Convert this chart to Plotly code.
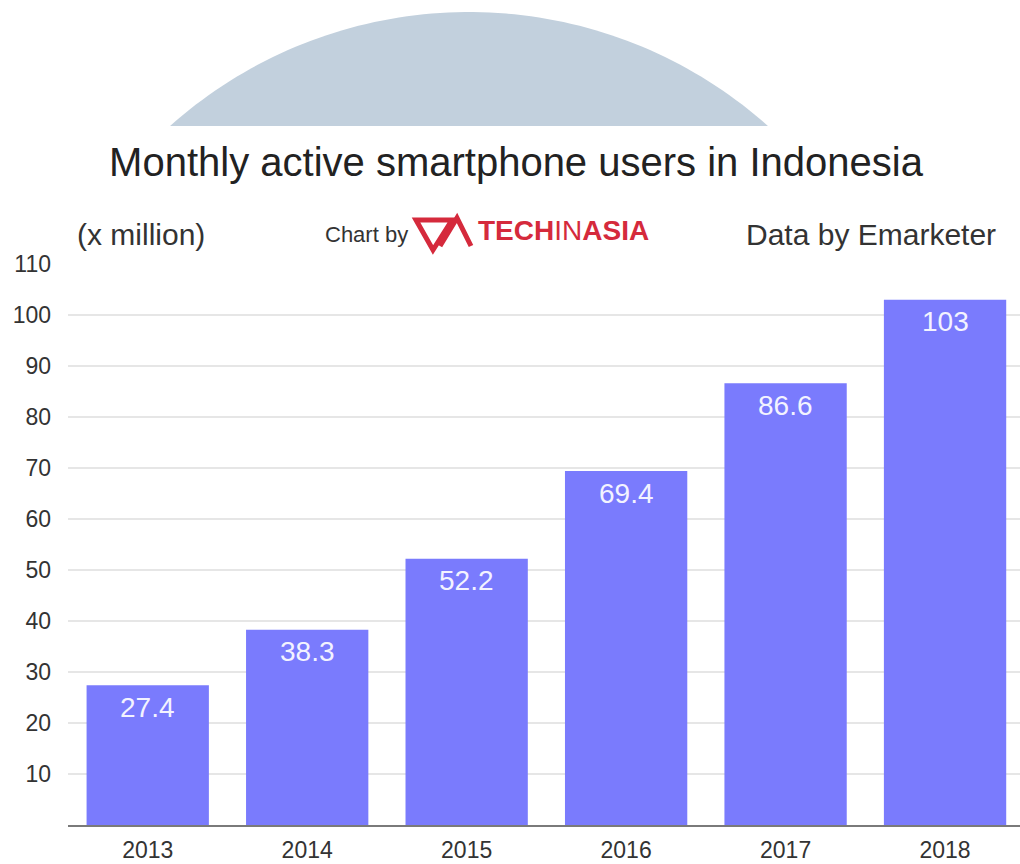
import numpy as np
import plotly.graph_objects as go

# ---- data ----
years = ["2013", "2014", "2015", "2016", "2017", "2018"]
users_million = [27.4, 38.3, 52.2, 69.4, 86.6, 103]
bar_labels = ["27.4", "38.3", "52.2", "69.4", "86.6", "103"]
y_tickvals = [10, 20, 30, 40, 50, 60, 70, 80, 90, 100, 110]
y_ticktext = ["10", "20", "30", "40", "50", "60", "70", "80", "90", "100", "110"]

title_text = "Monthly active smartphone users in Indonesia"
unit_text = "(x million)"
source_text = "Data by Emarketer"

# ---- layout geometry (pixels) ----
W, H = 1020, 864
ML, MR, MT, MB = 68, 0, 264, 39
PW = W - ML - MR
PH = H - MT - MB
PB = H - MB  # plot bottom in pixels


def px(x):
    return (x - ML) / PW


def py(y):
    return (PB - y) / PH


FONT = "Liberation Sans, Arial, Helvetica, sans-serif"
BAR_COLOR = "#7a7bfd"
RED = "#d52a3c"

fig = go.Figure()
fig.add_trace(go.Bar(
    x=years, y=users_million,
    marker=dict(color=BAR_COLOR, line=dict(width=0)),
    hoverinfo="x+y",
))

annotations = []
for i, (v, lab) in enumerate(zip(users_million, bar_labels)):
    annotations.append(dict(
        x=i, y=v, xref="x", yref="y", text=lab, showarrow=False,
        yanchor="middle", yshift=-22,
        font=dict(family=FONT, size=28, color="#f3f3ff"),
    ))

annotations += [
    dict(x=px(75), y=py(235), xref="paper", yref="paper", text=unit_text,
         showarrow=False, xanchor="left", yanchor="middle",
         font=dict(family=FONT, size=30, color="#333333")),
    dict(x=px(998), y=py(235), xref="paper", yref="paper", text=source_text,
         showarrow=False, xanchor="right", yanchor="middle",
         font=dict(family=FONT, size=30, color="#333333")),
    dict(x=px(410), y=py(234), xref="paper", yref="paper", text="Chart by",
         showarrow=False, xanchor="right", yanchor="middle",
         font=dict(family=FONT, size=22, color="#333333")),
    dict(x=px(476), y=py(230), xref="paper", yref="paper",
         text="<b>TECH</b>IN<b>ASIA</b>",
         showarrow=False, xanchor="left", yanchor="middle",
         font=dict(family=FONT, size=28, color=RED)),
]

# decorative arc at top
cx, cy, r, ycut = 469.0, 461.0, 449.0, 126.0
t0 = np.arcsin((cy - ycut) / r)
ts = np.linspace(t0, np.pi - t0, 80)
xs = cx + r * np.cos(ts)
ys = cy - r * np.sin(ts)
arc_path = "M " + " L ".join(f"{px(a):.5f},{py(b):.5f}" for a, b in zip(xs, ys)) + " Z"

shapes = [
    dict(type="path", xref="paper", yref="paper", path=arc_path,
         fillcolor="#c2d0dd", line=dict(width=0), layer="below"),
]

# logo mark: inverted triangle + A
tri = [(416, 220), (452, 220), (433, 250)]
tri_path = "M " + " L ".join(f"{px(a):.5f},{py(b):.5f}" for a, b in tri) + " Z"
shapes.append(dict(type="path", xref="paper", yref="paper", path=tri_path,
                   fillcolor="rgba(0,0,0,0)", line=dict(color=RED, width=5)))
a_pts = [(440, 246), (457, 218), (471, 246)]
a_path = "M " + " L ".join(f"{px(a):.5f},{py(b):.5f}" for a, b in a_pts)
shapes.append(dict(type="path", xref="paper", yref="paper", path=a_path,
                   fillcolor="rgba(0,0,0,0)", line=dict(color=RED, width=5)))

fig.update_layout(
    width=W, height=H,
    margin=dict(l=ML, r=MR, t=MT, b=MB, pad=0, autoexpand=False),
    paper_bgcolor="white", plot_bgcolor="white",
    showlegend=False,
    bargap=0.233,
    title=dict(text=title_text, x=px(516), xanchor="center",
               xref="paper", y=1 - 162 / H, yanchor="middle", yref="container",
               font=dict(family=FONT, size=40, color="#222222")),
    annotations=annotations,
    shapes=shapes,
    xaxis=dict(
        type="category", automargin=False,
        range=[-0.5, 5.47], showgrid=False, showline=True, linecolor="#7a7a7a",
        linewidth=2, ticks="", ticklabelstandoff=3,
        tickfont=dict(family=FONT, size=23, color="#333333"), fixedrange=True,
    ),
    yaxis=dict(
        automargin=False,
        range=[0, 110], tickvals=y_tickvals, ticktext=y_ticktext,
        showgrid=True, gridcolor="#e6e6e6", gridwidth=1.5, zeroline=False,
        showline=False, ticks="", ticklabelstandoff=16,
        tickfont=dict(family=FONT, size=23, color="#333333"), fixedrange=True,
    ),
)

fig.write_html("out.html")
